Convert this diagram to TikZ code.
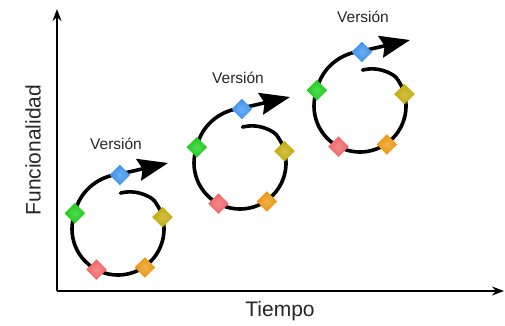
\documentclass[tikz,border=0pt]{standalone}
\usepackage{fontspec}
\setmainfont{Liberation Sans}
\usetikzlibrary{arrows.meta, positioning}
\definecolor{azul}{RGB}{60,145,235}
\definecolor{verde}{RGB}{25,205,25}
\definecolor{amarillo}{RGB}{195,170,10}
\definecolor{naranja}{RGB}{235,150,15}
\definecolor{rojo}{RGB}{240,100,100}

\begin{document}
\begin{tikzpicture}[x = 1pt, y = -1pt,
    rombo/.style = {rectangle, rotate = 45, minimum size = 14.5pt, inner sep = 0pt, inner color = #1!75!white, outer color = #1},
    ciclo/.style = {line width = 3.6pt, line cap = round, -{Stealth[length = 30pt, width = 22pt, inset = 4pt]}},
    eje/.style = {line width = 1.6pt, -{Stealth[length = 12pt, width = 9pt]}},
    etiqueta/.style = {font = \fontsize{21}{21}\selectfont, text = black!85},
    version/.style = {font = \fontsize{15.5}{16}\selectfont, text = black!85}]
    \useasboundingbox (0,0) rectangle (505,325);
    % Ejes
    \coordinate (o) at (57,291);
    \coordinate (fy) at (57,9);
    \coordinate (fx) at (504,291);
    \draw[eje] (o) -- (fy);
    \draw[eje] (o) -- (fx);
    \node[etiqueta, rotate = 90] (func) at (33,150) {Funcionalidad};
    \node[etiqueta] (tiempo) at (280,311) {Tiempo};
    % Ciclos
    \foreach \n/\cx/\cy/\lx/\ly in {1/118/229/-2/-85, 2/240/163/-2/-85, 3/360/106/3/-89}{
        \begin{scope}[shift = {(\cx,\cy)}]
            \coordinate (am\n) at ({46*cos(15)},{-46*sin(15)});
            \coordinate (na\n) at ({47*cos(-55)},{-47*sin(-55)});
            \coordinate (ro\n) at ({46*cos(-118)},{-46*sin(-118)});
            \coordinate (ve\n) at ({46*cos(160)},{-46*sin(160)});
            \coordinate (az\n) at ({54*cos(88)},{-54*sin(88)});
            \coordinate (punta\n) at (50,-66);
            \draw[ciclo] plot[domain = 86:-272, samples = 90, smooth]
                ({(46-10*max(0,(\x-40)/46)+9*max(0,(-200-\x)/72))*cos(\x)},
                 {-(46-10*max(0,(\x-40)/46)+9*max(0,(-200-\x)/72))*sin(\x)})
                -- (punta\n);
            \node[rombo = amarillo] (a\n) at (am\n) {};
            \node[rombo = naranja] (n\n) at (na\n) {};
            \node[rombo = rojo] (r\n) at (ro\n) {};
            \node[rombo = verde] (v\n) at (ve\n) {};
            \node[rombo = azul] (b\n) at (az\n) {};
            \node[version] (ver\n) at (\lx,\ly) {Versión};
        \end{scope}
    }
\end{tikzpicture}
\end{document}
